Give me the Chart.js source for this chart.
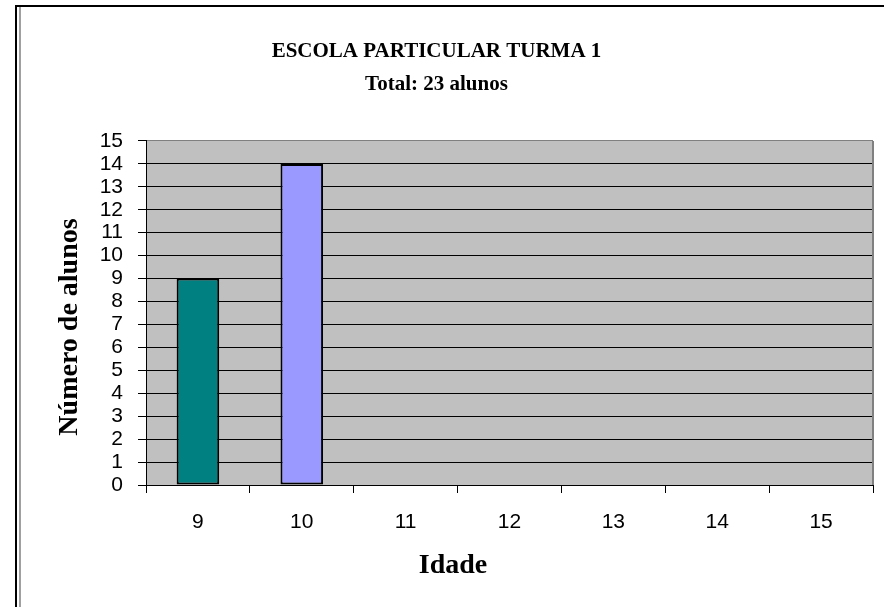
<!DOCTYPE html>
<html><head><meta charset="utf-8">
<script src="https://cdn.jsdelivr.net/npm/chart.js@4"></script>
<style>html,body{margin:0;padding:0;background:#fff;} #wrap{position:relative;width:884px;height:607px;}</style>
</head><body><div id="wrap"><canvas id="c" width="884" height="607"></canvas></div>
<script>
const categories = ['9', '10', '11', '12', '13', '14', '15'];
const alunos = [9, 14, 0, 0, 0, 0, 0];
const barColors = ['#008080', '#9999FF', '#993366', '#FFFFCC', '#CCFFFF', '#660066', '#FF8080'];
const yMin = 0, yMax = 15, yStep = 1;
const titleLines = ['ESCOLA PARTICULAR TURMA 1', 'Total: 23 alunos'];
const yTitle = 'Número de alunos';
const xTitle = 'Idade';

const plotBg = {
  id: 'plotBg',
  beforeDraw(chart) {
    const {ctx, chartArea: a} = chart;
    ctx.save();
    ctx.fillStyle = '#C0C0C0';
    ctx.fillRect(a.left, a.top, a.right - a.left, a.bottom - a.top);
    ctx.restore();
  },
  afterDatasetsDraw(chart) {
    const {ctx, chartArea: a} = chart;
    ctx.save();
    ctx.strokeStyle = '#808080';
    ctx.lineWidth = 2;
    ctx.beginPath();
    ctx.moveTo(a.right, a.top);
    ctx.lineTo(a.right, a.bottom);
    ctx.stroke();
    ctx.restore();
  }
};
const frame = {
  id: 'frame',
  afterDraw(chart) {
    const ctx = chart.ctx;
    ctx.save();
    ctx.fillStyle = '#000';
    ctx.fillRect(15, 5, 869, 2);
    ctx.fillRect(15, 5, 2, 602);
    ctx.fillStyle = '#A0A0A0';
    ctx.fillRect(19, 7, 2, 600);
    ctx.restore();
  }
};
const axisTitles = {
  id: 'axisTitles',
  afterDraw(chart) {
    const ctx = chart.ctx;
    ctx.save();
    ctx.fillStyle = '#000';
    ctx.font = 'bold 28px "Liberation Serif"';
    ctx.textAlign = 'center';
    ctx.textBaseline = 'middle';
    ctx.fillText(xTitle, 453, 566);
    ctx.translate(70, 327);
    ctx.rotate(-Math.PI / 2);
    ctx.fillText(yTitle, 0, 0);
    ctx.restore();
  }
};

new Chart(document.getElementById('c'), {
  type: 'bar',
  data: {
    labels: categories,
    datasets: [{
      data: alunos,
      backgroundColor: barColors,
      borderColor: '#000',
      borderWidth: ctx => (ctx.raw > 0 ? 2 : 0),
      borderSkipped: false,
      barPercentage: 0.41,
      categoryPercentage: 1
    }]
  },
  options: {
    responsive: false,
    animation: false,
    devicePixelRatio: 1,
    layout: {padding: {left: 0, right: 11, top: 0, bottom: 0}},
    plugins: {
      legend: {display: false},
      tooltip: {enabled: false},
      title: {
        display: true,
        text: titleLines,
        color: '#000',
        font: {family: 'Liberation Serif', size: 21, weight: 'bold', lineHeight: 1.57},
        padding: {top: 35, bottom: 40}
      }
    },
    scales: {
      x: {
        offset: true,
        grid: {offset: true, drawOnChartArea: false, drawTicks: true, tickLength: 8, color: '#000'},
        border: {color: '#000', width: 1},
        ticks: {color: '#000', font: {family: 'Liberation Sans', size: 21}, padding: 17},
        afterFit: s => { s.height = 122; }
      },
      y: {
        min: yMin, max: yMax,
        ticks: {stepSize: yStep, autoSkip: false, color: '#000', font: {family: 'Liberation Sans', size: 21}, padding: 15},
        grid: {color: ctx => (ctx.tick && ctx.tick.value === yMax ? '#808080' : '#000'), tickColor: '#000', tickLength: 8},
        border: {color: '#000', width: 1},
        afterFit: s => { s.width = 146; }
      }
    }
  },
  plugins: [plotBg, frame, axisTitles]
});
</script></body></html>
